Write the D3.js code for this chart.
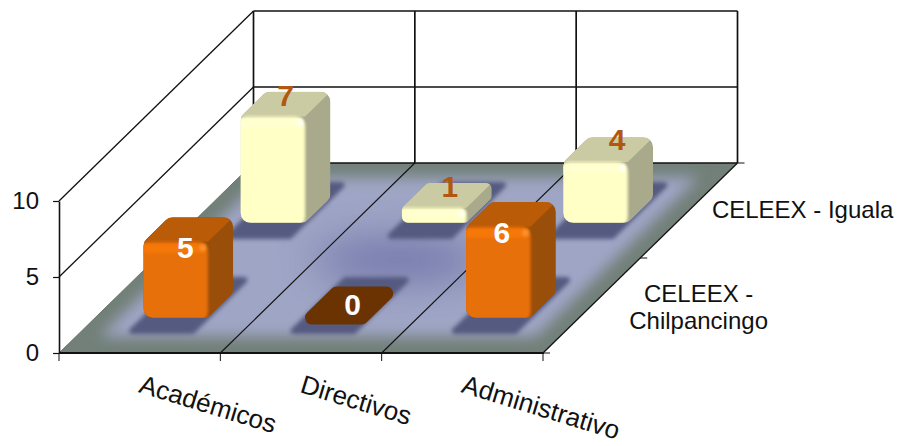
<!DOCTYPE html>
<html>
<head>
<meta charset="utf-8">
<script src="https://cdn.jsdelivr.net/npm/d3@7"></script>
<style>
  html, body { margin: 0; padding: 0; background: #fff; }
  svg { display: block; }
  text { font-family: "Liberation Sans", Arial, sans-serif; fill: #111; }
</style>
</head>
<body>
<div id="chart"></div>
<script>
// ------------------------------ DATA ------------------------------
var categories = ["Académicos", "Directivos", "Administrativo"],
    seriesNames = ["CELEEX - Chilpancingo", "CELEEX - Iguala"],
    seriesLines = [["CELEEX -", "Chilpancingo"], ["CELEEX - Iguala"]],
    chilpancingo = [5, 0, 6],
    iguala = [7, 1, 4],
    yTicks = [0, 5, 10];

// ------------------------------ PLOTTING CONFIG ------------------------------
var width = 898,
    height = 446,
    floorLeft = 59,
    floorRight = 543,
    floorBase = 353,
    depthX = 194.5,
    depthY = 190,
    wallHeight = 152;

var palette = [
    {front: "#e8700a", band: "#f67808", top: "#b95b07", side: "#994e0a", edge: "#a85206", glow: "#ff9a3a", label: "#ffffff", flat: "#6c3302"},
    {front: "#ffffc6", band: "#ffffd0", top: "#cbcba3", side: "#a9a98b", edge: "#d9d9a6", glow: "#ffffff", label: "#b25710", flat: "#cbcba3"}
];

// the label positions in the picture are not quite centred on the columns
var labelNudge = [[-1, 5, -7], [0, 3, 9]],
    labelLift = [[-1, -1, -1], [-1, -1, -3]];

// scales
var x = d3.scaleBand().domain(categories).range([floorLeft, floorRight]).paddingInner(0.6).paddingOuter(0.3),
    depth = d3.scaleBand().domain(seriesNames).range([0, 1]).paddingInner(0.74).paddingOuter(0.37),
    y = d3.scaleLinear().domain([0, 10]).range([floorBase, floorBase - wallHeight]);

var catStep = (floorRight - floorLeft) / categories.length;

// floor coordinate -> screen, u measured along the front edge, t from front to back, v in value units
function project(u, t, v) {
    return [u + t * depthX, y(v || 0) - t * depthY];
}

function roundedPoly(points, r) {
    var p = d3.path(), n = points.length;
    var a = points[n - 1], b = points[0];
    p.moveTo((a[0] + b[0]) / 2, (a[1] + b[1]) / 2);
    for (var i = 0; i < n; i++) {
        var c = points[i], d = points[(i + 1) % n];
        p.arcTo(c[0], c[1], (c[0] + d[0]) / 2, (c[1] + d[1]) / 2, r);
    }
    p.closePath();
    return p.toString();
}

function poly(points) {
    return "M" + points.map(function (d) { return d.join(","); }).join("L") + "Z";
}

// ------------------------------ MAIN ------------------------------
var svg = d3.select("#chart").append("svg").attr("width", width).attr("height", height);
var defs = svg.append("defs");

[["blur1", 0.6], ["blur2", 1.6], ["blur3", 2.2], ["blur7", 7], ["blur18", 20]].forEach(function (f) {
    defs.append("filter").attr("id", f[0])
        .attr("x", "-100%").attr("y", "-200%").attr("width", "300%").attr("height", "500%")
        .attr("color-interpolation-filters", "sRGB")
        .append("feGaussianBlur").attr("stdDeviation", f[1]);
});

var floorPts = [project(floorLeft, 0), project(floorRight, 0), project(floorRight, 1), project(floorLeft, 1)];
defs.append("clipPath").attr("id", "floorClip").append("path").attr("d", poly(floorPts));

// side and back walls
var walls = svg.append("g").attr("fill", "none").attr("stroke", "#111");
yTicks.slice(1).forEach(function (v) {
    var a = project(floorLeft, 0, v), b = project(floorLeft, 1, v), c = project(floorRight, 1, v);
    walls.append("path").attr("d", poly([a, b]).replace("Z", "")).attr("stroke-width", 1.3);
    walls.append("path").attr("d", poly([b, c]).replace("Z", "")).attr("stroke-width", 1.7);
});
d3.range(categories.length + 1).forEach(function (i) {
    var u = floorLeft + i * catStep;
    walls.append("line")
        .attr("x1", project(u, 1, 0)[0]).attr("y1", project(u, 1, 0)[1])
        .attr("x2", project(u, 1, 10)[0]).attr("y2", project(u, 1, 10)[1])
        .attr("stroke-width", 1.7);
});

// floor
var floor = svg.append("g").attr("clip-path", "url(#floorClip)");
floor.append("path").attr("d", poly(floorPts)).attr("fill", "#728079");
floor.append("path")
    .attr("d", poly([project(floorLeft + 24, 0.085), project(floorRight - 24, 0.085), project(floorRight - 24, 0.925), project(floorLeft + 24, 0.925)]))
    .attr("fill", "#9fa5c5").attr("filter", "url(#blur7)");
floor.append("ellipse")
    .attr("cx", project(floorLeft + catStep * 1.5, 0.5)[0]).attr("cy", project(floorLeft, 0.5)[1] + 2)
    .attr("rx", 85).attr("ry", 18)
    .attr("fill", "#5f63a0").attr("opacity", 0.8).attr("filter", "url(#blur18)");

var seriesValues = [chilpancingo, iguala];

// shadows under the columns
seriesNames.forEach(function (name, s) {
    categories.forEach(function (cat) {
        var u0 = x(cat) - 2, u1 = u0 + x.bandwidth() + 4,
            tMid = depth(name) + depth.bandwidth() / 2,
            t0 = tMid - 0.15, t1 = tMid + 0.15;
        floor.append("path")
            .attr("d", roundedPoly([project(u0, t0), project(u1, t0), project(u1, t1), project(u0, t1)], 3))
            .attr("fill", "#555a80").attr("filter", "url(#blur3)");
    });
});

// floor grid lines, ticks and axis lines
var lines = svg.append("g").attr("stroke", "#111").attr("fill", "none");
d3.range(1, categories.length).forEach(function (i) {
    var u = floorLeft + i * catStep;
    lines.append("line")
        .attr("x1", project(u, 0)[0]).attr("y1", project(u, 0)[1])
        .attr("x2", project(u, 1)[0]).attr("y2", project(u, 1)[1])
        .attr("stroke-width", 1.1);
});
lines.append("path").attr("d", poly([floorPts[1], floorPts[2]]).replace("Z", "")).attr("stroke-width", 1.3);
lines.append("path").attr("d", poly([floorPts[0], floorPts[3]]).replace("Z", "")).attr("stroke", "#4d5a52").attr("stroke-width", 0.8);
lines.append("path").attr("d", poly([floorPts[3], floorPts[2]]).replace("Z", "")).attr("stroke-width", 1.7);
d3.range(categories.length + 1).forEach(function (i) {
    var u = floorLeft + i * catStep;
    lines.append("line").attr("x1", u).attr("x2", u).attr("y1", floorBase).attr("y2", floorBase + 8).attr("stroke-width", 1);
});
// depth ticks on the right edge
d3.range(seriesNames.length + 1).forEach(function (i) {
    var p = project(floorRight, i / seriesNames.length);
    lines.append("line").attr("x1", p[0]).attr("x2", p[0] + 7).attr("y1", p[1]).attr("y2", p[1]).attr("stroke-width", 1);
});
lines.append("line").attr("x1", floorLeft).attr("x2", floorRight + 1).attr("y1", floorBase).attr("y2", floorBase).attr("stroke-width", 2);

// y axis
var yAxis = svg.append("g").attr("transform", "translate(" + floorLeft + ",0)")
    .call(d3.axisLeft(y).tickValues(yTicks).tickSize(6).tickPadding(14).tickSizeOuter(0));
yAxis.select(".domain").attr("stroke", "#111").attr("stroke-width", 1.6);
yAxis.selectAll(".tick line").attr("stroke", "#111").attr("stroke-width", 1.2);
yAxis.selectAll("text").attr("font-size", 24).style("font-family", '"Liberation Sans", Arial, sans-serif').attr("fill", "#111");

// category labels
svg.append("g").selectAll("text").data(categories).enter().append("text")
    .attr("transform", function (d) { return "translate(" + (x(d) + x.bandwidth() / 2 - 2) + ",392) rotate(17)"; })
    .attr("font-size", 26)
    .text(function (d) { return d; });

// series labels
svg.append("g").selectAll("text").data(seriesNames).enter().append("text")
    .attr("font-size", 24)
    .attr("text-anchor", function (d, i) { return i === 0 ? "middle" : "start"; })
    .each(function (d, i) {
        var edge = project(floorRight, depth(d) + depth.bandwidth() / 2);
        var sel = d3.select(this);
        seriesLines[i].forEach(function (line, j) {
            sel.append("tspan")
                .attr("x", edge[0] + (i === 0 ? 107 : 23))
                .attr("y", edge[1] + (i === 0 ? -3.5 : 7) + j * 26.5)
                .text(line);
        });
    });

// columns, back row first
[1, 0].forEach(function (s) {
    var name = seriesNames[s], col = palette[s];
    categories.forEach(function (cat, c) {
        var v = seriesValues[s][c], g = svg.append("g");
        var u0 = x(cat), u1 = u0 + x.bandwidth(),
            t0 = depth(name), t1 = t0 + depth.bandwidth();

        if (v === 0) {
            // an empty column is only a flat tile on the floor
            var tMid = t0 + depth.bandwidth() / 2, ta = tMid - 0.1, tb = tMid + 0.1;
            g.append("path")
                .attr("d", roundedPoly([project(u0 - 3, ta), project(u1 + 2, ta), project(u1 + 2, tb), project(u0 - 3, tb)], 7))
                .attr("fill", col.flat).attr("filter", "url(#blur1)");
        } else {
            var a = project(u0, t0, 0), b = project(u1, t0, 0), c2 = project(u1, t1, 0),
                e = project(u0, t0, v), f = project(u1, t0, v), h = project(u1, t1, v), i2 = project(u0, t1, v);
            var r = v === 1 ? 6 : 10;
            var clipId = "bar" + s + "-" + c;
            defs.append("clipPath").attr("id", clipId).append("path").attr("d", roundedPoly([a, b, c2, h, i2, e], r));
            var blocks = g.append("g").attr("clip-path", "url(#" + clipId + ")");
            blocks.append("path").attr("d", poly([a, b, c2, h, i2, e])).attr("fill", col.side);
            blocks.append("path").attr("d", poly([e, f, h, i2])).attr("fill", col.top).attr("filter", "url(#blur1)");
            blocks.append("path").attr("d", roundedPoly([[e[0] - 4, e[1]], f, [b[0], b[1] + 4], [a[0] - 4, a[1] + 4]], r))
                .attr("fill", col.front).attr("filter", "url(#blur2)");
            // lighter rim along the top of the front face and on its corner
            blocks.append("rect")
                .attr("x", e[0]).attr("y", e[1] + 2)
                .attr("width", f[0] - e[0] - 3).attr("height", Math.min(9, (a[1] - e[1]) / 2))
                .attr("fill", col.band).attr("filter", "url(#blur2)");
            blocks.append("circle")
                .attr("cx", f[0] - 5).attr("cy", f[1] + 6).attr("r", 3.5)
                .attr("fill", col.glow).attr("opacity", 0.75).attr("filter", "url(#blur2)");
        }

        // value label sits on the column top, lower on the front row
        var topMid = project(u0 + x.bandwidth() / 2, t0 + depth.bandwidth() / 2, v);
        var dy = v === 0 ? 0 : (s === 0 ? 19 : -8);
        g.append("text")
            .attr("x", topMid[0] + (s === 0 ? -2 : 0) + labelNudge[s][c])
            .attr("y", topMid[1] + dy + labelLift[s][c])
            .attr("dy", "0.36em")
            .attr("text-anchor", "middle")
            .attr("font-size", 30)
            .attr("font-weight", "bold")
            .style("fill", col.label)
            .text(v);
    });
});
</script>
</body>
</html>
